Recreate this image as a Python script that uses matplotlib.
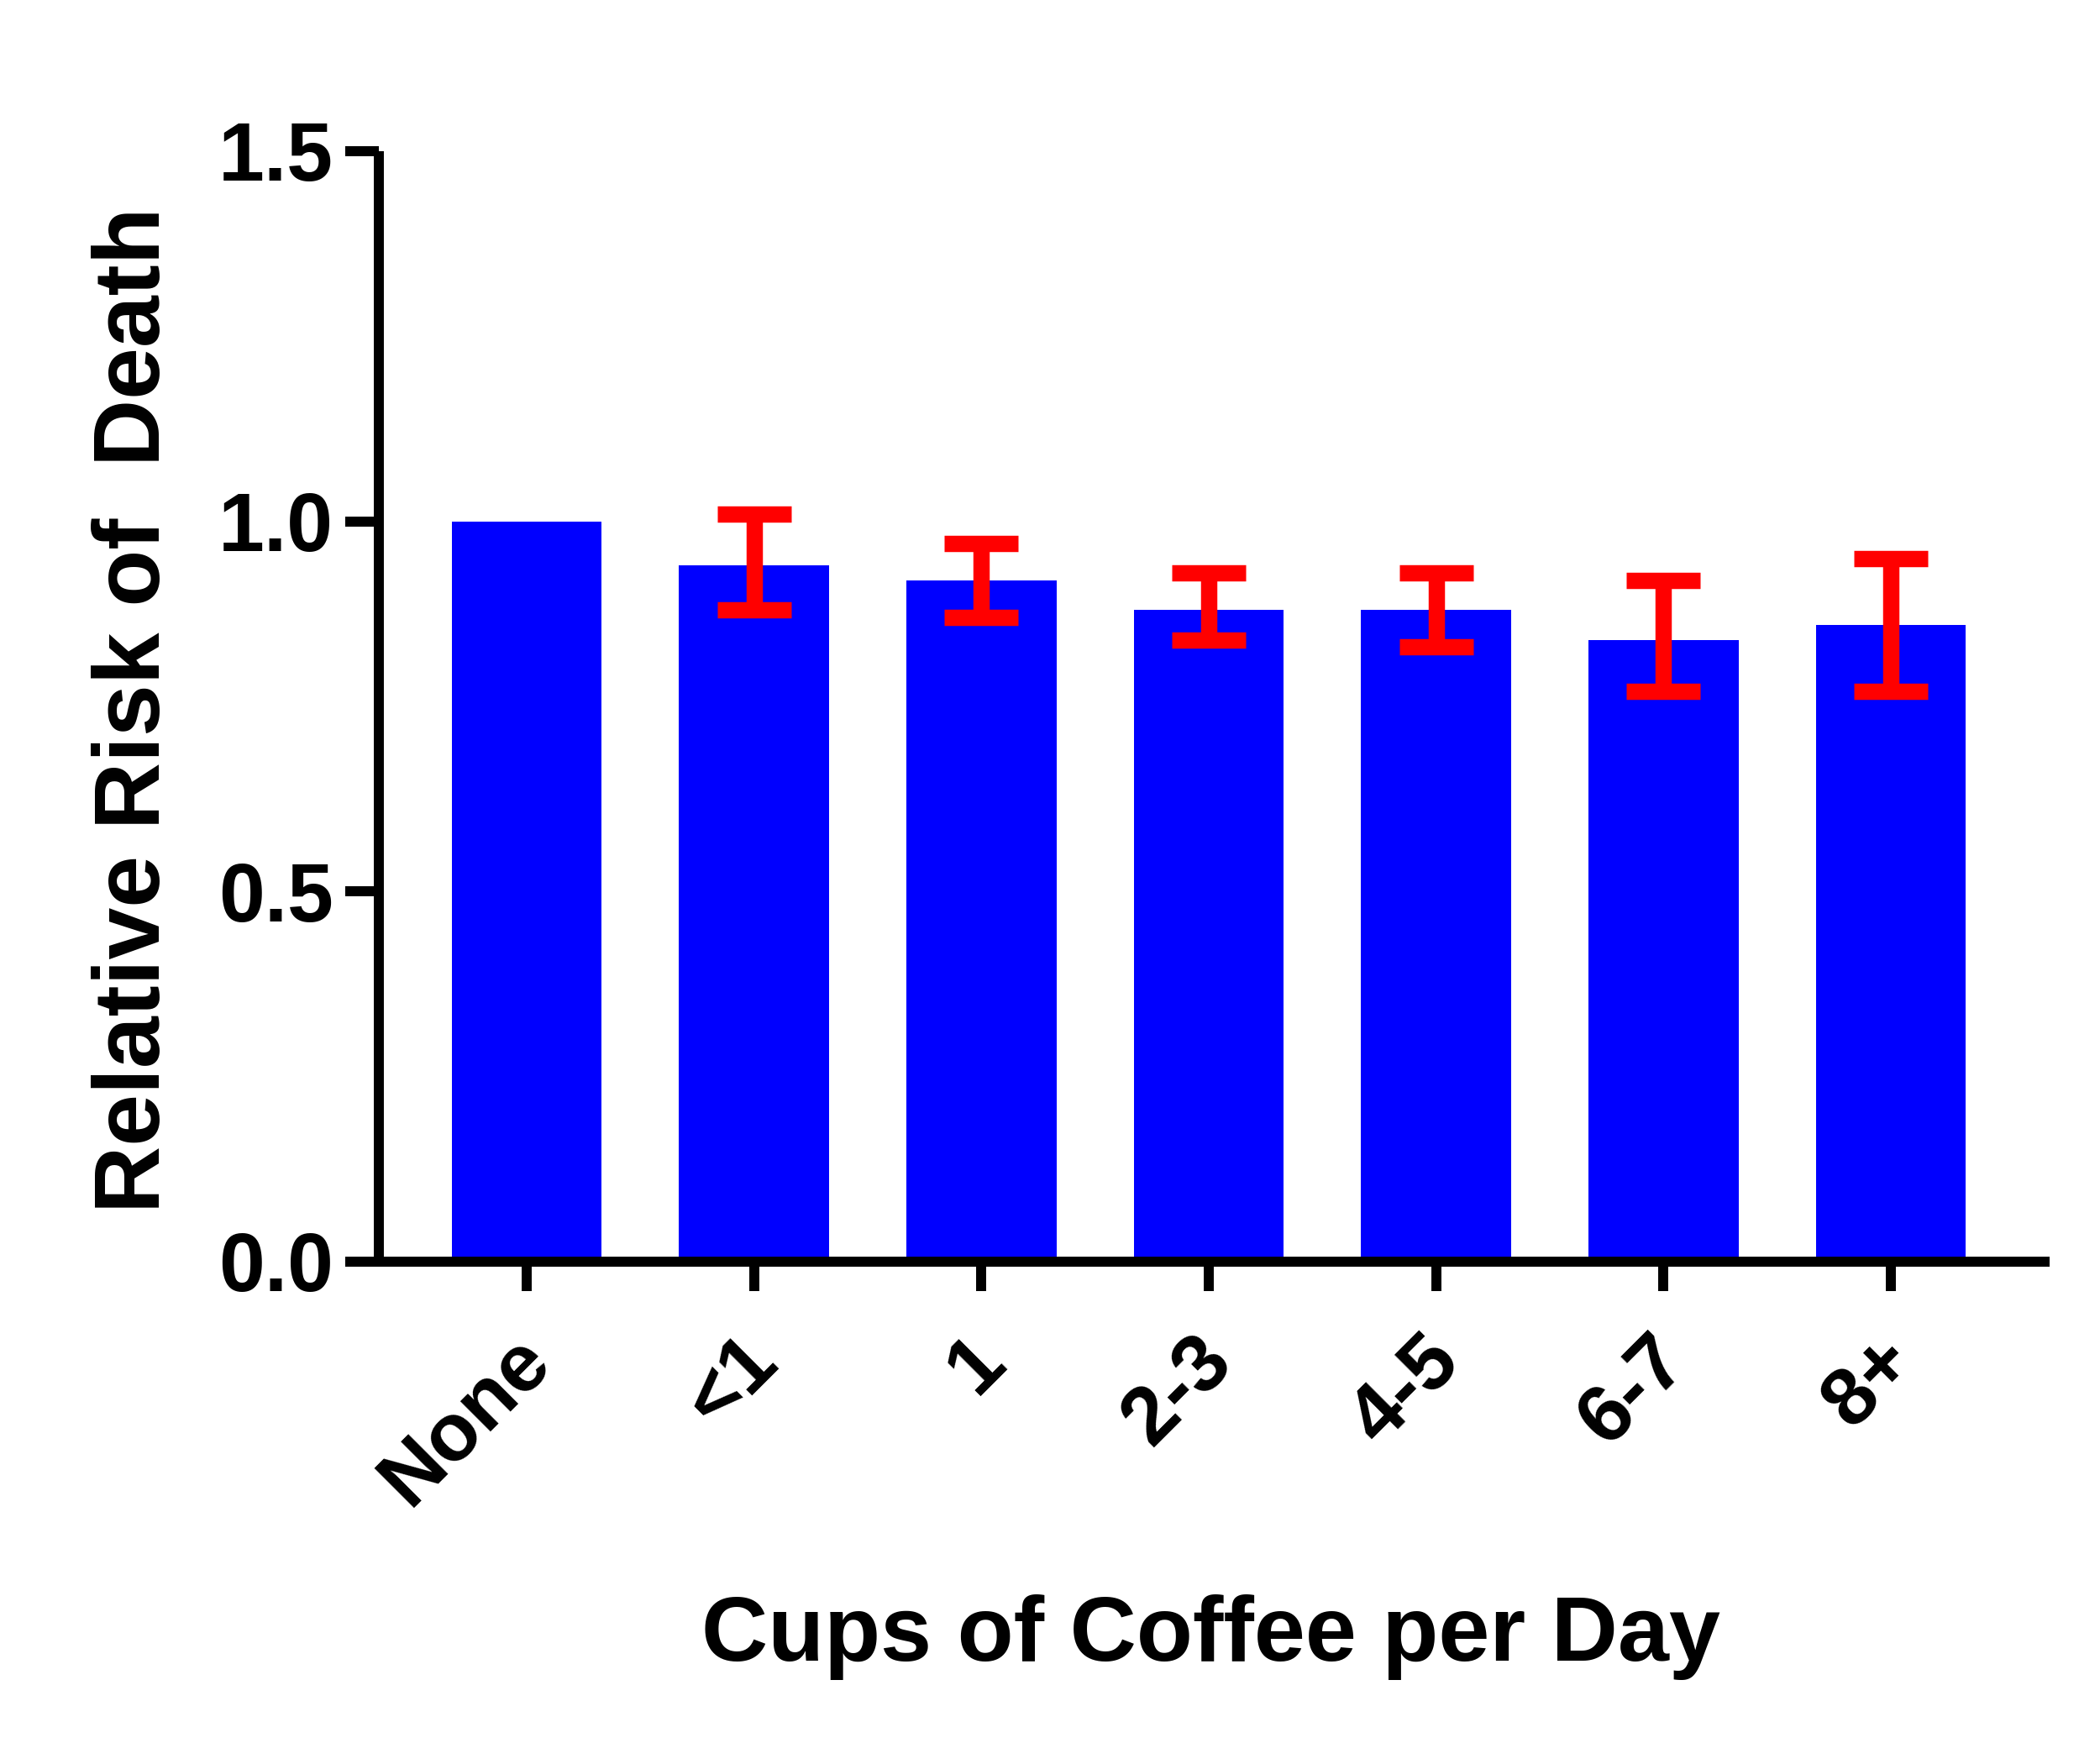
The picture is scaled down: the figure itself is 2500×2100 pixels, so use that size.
import matplotlib
matplotlib.use('Agg')
import matplotlib.pyplot as plt
import matplotlib.transforms as mtransforms
import numpy as np

plt.rcParams['font.family'] = ['Liberation Sans', 'DejaVu Sans']
plt.rcParams['font.weight'] = 'bold'

# data
categories = ['None', '<1', '1', '2-3', '4-5', '6-7', '8+']
risk = [1.00, 0.94, 0.92, 0.88, 0.88, 0.84, 0.86]
ci_low = [None, 0.88, 0.87, 0.84, 0.83, 0.77, 0.77]
ci_high = [None, 1.01, 0.97, 0.93, 0.93, 0.92, 0.95]
y_ticks = [0.0, 0.5, 1.0, 1.5]

fig = plt.figure(figsize=(25, 21), dpi=100)
ax = fig.add_axes([0.1805, 0.2848, 0.7956, 0.6295])

x = np.arange(len(categories))
ax.bar(x, risk, width=0.66, color='#0000FF', edgecolor='none', zorder=2)

# error bars only where an interval exists
idx = [i for i in range(len(categories)) if ci_low[i] is not None]
ex = [x[i] for i in idx]
ey = [risk[i] for i in idx]
lo = [risk[i] - ci_low[i] for i in idx]
hi = [ci_high[i] - risk[i] for i in idx]
ax.errorbar(ex, ey, yerr=[lo, hi], fmt='none', ecolor='#FF0000',
            elinewidth=14, capsize=31.5, capthick=14, zorder=3)

ax.set_xlim(-0.65, 6.7)
ax.set_ylim(0, 1.5)
ax.set_yticks(y_ticks)
ax.set_yticklabels([f'{v:.1f}' for v in y_ticks])
ax.set_xticks(x)
ax.set_xticklabels(categories, rotation=45, ha='right', va='center',
                   rotation_mode='anchor')

for side in ['top', 'right']:
    ax.spines[side].set_visible(False)
for side in ['left', 'bottom']:
    ax.spines[side].set_linewidth(8.6)
    ax.spines[side].set_capstyle('butt')

ax.tick_params(axis='y', length=29, width=8.6, pad=10, labelsize=71)
ax.tick_params(axis='x', length=25, width=8.6, pad=50, labelsize=70)
for lab in ax.get_xticklabels() + ax.get_yticklabels():
    lab.set_fontweight('bold')

# nudge the rotated category labels a little to the right
shift = mtransforms.ScaledTranslation(10 / 72, 0, fig.dpi_scale_trans)
for lab in ax.get_xticklabels():
    lab.set_transform(lab.get_transform() + shift)

ax.set_xlabel('Cups of Coffee per Day', fontsize=79, fontweight='bold', va='center')
ax.xaxis.set_label_coords(0.498, -0.338)
ax.set_ylabel('Relative Risk of  Death', fontsize=80, fontweight='bold', va='center')
ax.yaxis.set_label_coords(-0.1458, 0.497)

fig.savefig('out.png', dpi=100)
plt.close(fig)
